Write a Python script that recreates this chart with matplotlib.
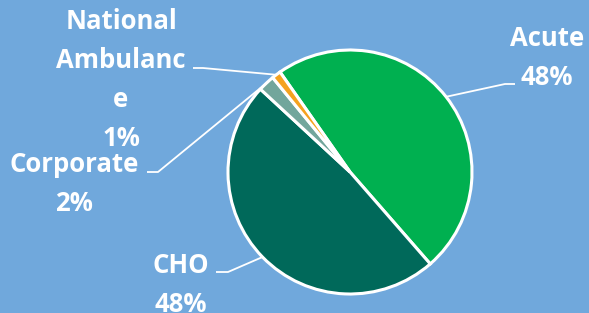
import numpy as np
import matplotlib.pyplot as plt

# slice data (clockwise from the upper left)
labels = ["Acute", "CHO", "Corporate", "National\nAmbulanc\ne"]
shares = [48.3, 48.3, 2.2, 1.2]
colors = ["#00b050", "#00695a", "#72a69c", "#f5a21e"]

# label layout in pixels (x centre, first baseline from top), elbow of the leader line
label_pos = [(547, 46), (181, 273), (74, 172), (121, 29)]
elbow = [(505, 84, 515), (228, 272, 216), (158, 172, 147), (203, 68, 193)]

W, H = 589, 313
bg = "#70a8dc"
fig = plt.figure(figsize=(W / 100, H / 100), dpi=100, facecolor=bg)
ax = fig.add_axes([0, 0, 1, 1])
ax.set_facecolor(bg)

cx, cy, r = 350, H - 172, 122
wedges, _ = ax.pie(shares, colors=colors, startangle=125, counterclock=False,
                   center=(cx, cy), radius=r, frame=True,
                   wedgeprops=dict(edgecolor="white", linewidth=2.2))
ax.set_xlim(0, W)
ax.set_ylim(0, H)
ax.axis("off")

total = sum(shares)
pitch = 39
for w, lab, s, (tx, ty), (ex, ey, ex2) in zip(wedges, labels, shares, label_pos, elbow):
    mid = np.deg2rad((w.theta1 + w.theta2) / 2)
    px, py = cx + r * np.cos(mid), cy + r * np.sin(mid)
    ax.plot([px, ex, ex2], [py, H - ey, H - ey], color="white", lw=1.3,
            solid_capstyle="butt", zorder=1)
    lines = lab.split("\n") + [f"{round(s / total * 100):.0f}%"]
    for i, t in enumerate(lines):
        ax.text(tx, H - ty - i * pitch, t, ha="center", va="baseline",
                color="white", fontsize=18.5, fontweight="bold", family="Open Sans")

fig.savefig("out.png", dpi=100, facecolor=bg)
